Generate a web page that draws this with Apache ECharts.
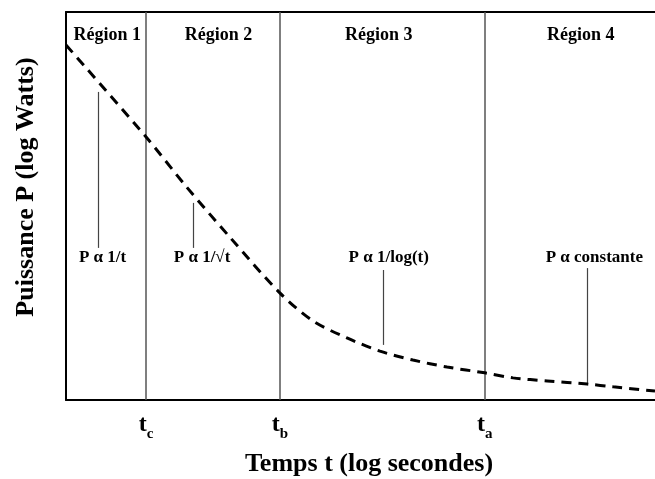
<!DOCTYPE html>
<html>
<head>
<meta charset="utf-8">
<script src="https://cdn.jsdelivr.net/npm/echarts@6/dist/echarts.min.js"></script>
<style>
html,body{margin:0;padding:0;background:#fff;}
#chart{width:655px;height:479px;}
</style>
</head>
<body>
<div id="chart"></div>
<script>
// x = log time (arbitrary units), y = log power (arbitrary units)
var curveX = [0, 1.36, 2.02, 2.78, 3.63, 4.19, 4.77, 5.33, 5.89, 6.47, 7.11, 7.59, 8.17, 8.85, 9.29, 10.0];
var curveY = [9.15, 6.78, 5.54, 4.20, 2.76, 2.04, 1.60, 1.26, 1.03, 0.85, 0.70, 0.57, 0.49, 0.41, 0.34, 0.23];

var boundaryNames = ['c', 'b', 'a'];
var boundaryX = [1.36, 3.63, 7.11];

var regionNames = ['Région 1', 'Région 2', 'Région 3', 'Région 4'];
var regionX = [0.70, 2.59, 5.31, 8.74];
var regionY = [9.40, 9.40, 9.40, 9.40];

var lawNames = ['P α 1/t', 'P α 1/√t', 'P α 1/log(t)', 'P α constante'];
var lawLabelX = [0.62, 2.31, 5.48, 8.97];
var lawLabelY = [3.67, 3.67, 3.67, 3.67];
var pointerX = [0.54, 2.16, 5.38, 8.85];
var pointerTop = [7.94, 5.08, 3.35, 3.40];
var pointerBottom = [3.92, 3.92, 1.42, 0.41];

var xTitle = 'Temps t (log secondes)';
var yTitle = 'Puissance P (log Watts)';

var FONT = '"Liberation Serif", "Times New Roman", serif';

var curveData = curveX.map(function (x, i) { return [x, curveY[i]]; });
var regionData = regionNames.map(function (n, i) { return { name: n, value: [regionX[i], regionY[i]] }; });
var lawData = lawNames.map(function (n, i) { return { name: n, value: [lawLabelX[i], lawLabelY[i]] }; });
var pointerLines = pointerX.map(function (x, i) {
  return [{ coord: [x, pointerTop[i]] }, { coord: [x, pointerBottom[i]] }];
});
var boundaryLines = boundaryX.map(function (x) { return { xAxis: x }; });

var chart = echarts.init(document.getElementById('chart'), null, { renderer: 'canvas' });
chart.setOption({
  animation: false,
  backgroundColor: '#fff',
  grid: { left: 66, right: 0, top: 12, bottom: 79 },
  xAxis: [{
    type: 'value', min: 0, max: 10,
    axisLine: { show: true, onZero: false, lineStyle: { color: '#000', width: 2 } },
    axisTick: { show: false },
    splitLine: { show: false },
    axisLabel: {
      show: true,
      customValues: boundaryX,
      margin: 13,
      formatter: function (v) {
        var idx = 0, best = 1e9;
        boundaryX.forEach(function (b, i) { if (Math.abs(b - v) < best) { best = Math.abs(b - v); idx = i; } });
        return '{t|t}{s|' + boundaryNames[idx] + '}';
      },
      rich: {
        t: { fontFamily: FONT, fontWeight: 'bold', fontSize: 24, color: '#000', verticalAlign: 'bottom', lineHeight: 24 },
        s: { fontFamily: FONT, fontWeight: 'bold', fontSize: 15, color: '#000', verticalAlign: 'bottom', lineHeight: 16, padding: [0, 0, -5, 0] }
      }
    }
  }, {
    type: 'value', min: 0, max: 10, position: 'top',
    axisLine: { show: true, onZero: false, lineStyle: { color: '#000', width: 2 } },
    axisTick: { show: false }, axisLabel: { show: false }, splitLine: { show: false }
  }],
  yAxis: {
    type: 'value', min: 0, max: 10,
    axisLine: { show: true, onZero: false, lineStyle: { color: '#000', width: 2 } },
    axisTick: { show: false }, axisLabel: { show: false }, splitLine: { show: false }
  },
  graphic: [{
    type: 'text', x: 369, y: 464,
    style: { text: xTitle, font: 'bold 26px ' + FONT, fill: '#000', align: 'center', verticalAlign: 'middle' }
  }, {
    type: 'text', x: 26, y: 187, rotation: Math.PI / 2,
    style: { text: yTitle, font: 'bold 26px ' + FONT, fill: '#000', align: 'center', verticalAlign: 'middle' }
  }],
  series: [{
    type: 'line',
    data: [],
    markLine: {
      silent: true, symbol: ['none', 'none'], label: { show: false },
      lineStyle: { color: '#555', width: 1.5, type: 'solid' },
      data: boundaryLines
    }
  }, {
    type: 'line',
    data: [],
    markLine: {
      silent: true, symbol: ['none', 'none'], label: { show: false },
      lineStyle: { color: '#444', width: 1.2, type: 'solid' },
      data: pointerLines
    }
  }, {
    type: 'line',
    data: curveData,
    smooth: 0.3,
    symbol: 'none',
    lineStyle: { color: '#000', width: 3, type: [10, 7] },
    z: 5
  }, {
    type: 'scatter',
    data: regionData,
    symbol: 'circle',
    symbolSize: 0.01,
    itemStyle: { color: '#000', opacity: 1 },
    label: {
      show: true, position: 'inside', formatter: '{b}', opacity: 1,
      fontFamily: FONT, fontWeight: 'bold', fontSize: 18, color: '#000', textBorderWidth: 0
    }
  }, {
    type: 'scatter',
    data: lawData,
    symbol: 'circle',
    symbolSize: 0.01,
    itemStyle: { color: '#000', opacity: 1 },
    label: {
      show: true, position: 'inside', formatter: '{b}', opacity: 1,
      fontFamily: FONT, fontWeight: 'bold', fontSize: 17, color: '#000', textBorderWidth: 0
    }
  }]
});
</script>
</body>
</html>
